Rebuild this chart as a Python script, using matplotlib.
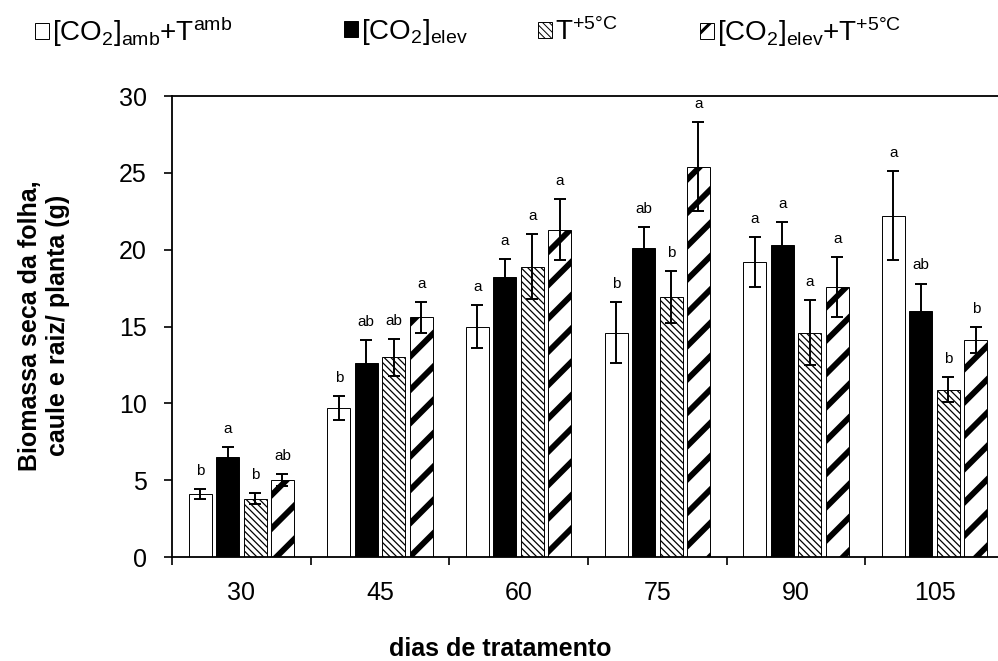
import numpy as np
import matplotlib
matplotlib.use("Agg")
import matplotlib.pyplot as plt

plt.rcParams["font.family"] = ["Liberation Sans", "DejaVu Sans"]
plt.rcParams["mathtext.default"] = "regular"

# ---------------------------------------------------------------------------
# Data
# ---------------------------------------------------------------------------
days = ["30", "45", "60", "75", "90", "105"]

amb_mean   = [4.1, 9.7, 15.0, 14.6, 19.2, 22.2]
amb_err    = [0.3, 0.8, 1.4, 2.0, 1.6, 2.9]
co2_mean   = [6.5, 12.6, 18.2, 20.1, 20.3, 16.0]
co2_err    = [0.65, 1.5, 1.2, 1.4, 1.5, 1.8]
temp_mean  = [3.8, 13.0, 18.9, 16.9, 14.6, 10.9]
temp_err   = [0.35, 1.2, 2.1, 1.7, 2.1, 0.8]
both_mean  = [5.0, 15.6, 21.3, 25.4, 17.6, 14.1]
both_err   = [0.4, 1.0, 2.0, 2.9, 1.95, 0.85]

amb_letters  = ["b", "b", "a", "b", "a", "a"]
co2_letters  = ["a", "ab", "a", "ab", "a", "ab"]
temp_letters = ["b", "ab", "a", "b", "a", "b"]
both_letters = ["ab", "a", "a", "a", "a", "b"]

labels = [r"[CO$_2$]$_{amb}$+T$^{amb}$",
          r"[CO$_2$]$_{elev}$",
          r"T$^{+5°C}$",
          r"[CO$_2$]$_{elev}$+T$^{+5°C}$"]

# ---------------------------------------------------------------------------
# Plot
# ---------------------------------------------------------------------------
fig = plt.figure(figsize=(9.98, 6.61), dpi=100)
ax = fig.add_axes([0.1723, 0.1573, 0.8337, 0.6974])

x = np.arange(len(days))
pitch = 0.198
width = 0.166

series = [
    (amb_mean, amb_err, amb_letters, dict(color="white", hatch=None), 0.8),
    (co2_mean, co2_err, co2_letters, dict(color="black", hatch=None), 0.8),
    (temp_mean, temp_err, temp_letters, dict(color="white", hatch="\\\\\\\\\\"), 0.9),
    (both_mean, both_err, both_letters, dict(color="white", hatch="/"), 4.2),
]

handles = []
for k, (mean, err, letters, style, hlw) in enumerate(series):
    pos = x + (k - 1.5) * pitch
    with plt.rc_context({"hatch.linewidth": hlw}):
        bars = ax.bar(pos, mean, width, color=style["color"], hatch=style["hatch"],
                      edgecolor="black", linewidth=0.7, zorder=2)
    for b in bars:
        if hasattr(b, "set_hatch_linewidth"):
            b.set_hatch_linewidth(hlw)
    ax.errorbar(pos, mean, yerr=err, fmt="none", ecolor="black",
                elinewidth=1.4, capsize=4, capthick=1.4, zorder=3)
    for p, m, e, t in zip(pos, mean, err, letters):
        ax.annotate(t, (p, m + e), xytext=(0, 8), textcoords="offset points",
                    ha="center", va="bottom", fontsize=11)
    handles.append(bars)

ax.set_xlim(-0.5, len(days) - 0.5)
ax.set_ylim(0, 30)
ax.set_yticks(np.arange(0, 31, 5))
ax.set_xticks(x)
ax.set_xticklabels(days)
ax.set_xticks(np.arange(-0.5, len(days)), minor=True)
ax.tick_params(axis="x", which="major", length=0, labelsize=18, pad=17)
ax.tick_params(axis="x", which="minor", length=6, width=1.2, direction="out")
ax.tick_params(axis="y", length=6, width=1.2, direction="out", labelsize=18, pad=12)
for s in ax.spines.values():
    s.set_linewidth(1.3)

fig.text(44 / 998, 0.507, "Biomassa seca da folha,\ncaule e raiz/ planta (g)",
         rotation=90, ha="center", va="center", ma="center",
         fontsize=18, fontweight="bold")
fig.text(500 / 998, 0.018, "dias de tratamento", ha="center", va="center",
         fontsize=18, fontweight="bold")

# legend entries placed individually along the top
leg_x = [35, 344, 538, 700]
leg_hlw = [0.8, 0.8, 0.7, 2.2]
for h, lab, lx, hl in zip(handles, labels, leg_x, leg_hlw):
    leg = fig.legend([h], [lab], loc="center left", bbox_to_anchor=(lx / 998, 0.952),
                     frameon=False, fontsize=20, handlelength=0.5, handleheight=0.5,
                     handletextpad=0.1, borderpad=0, borderaxespad=0)
    for p in leg.get_patches():
        if hasattr(p, "set_hatch_linewidth"):
            p.set_hatch_linewidth(hl)

fig.savefig("out.png", dpi=100)
